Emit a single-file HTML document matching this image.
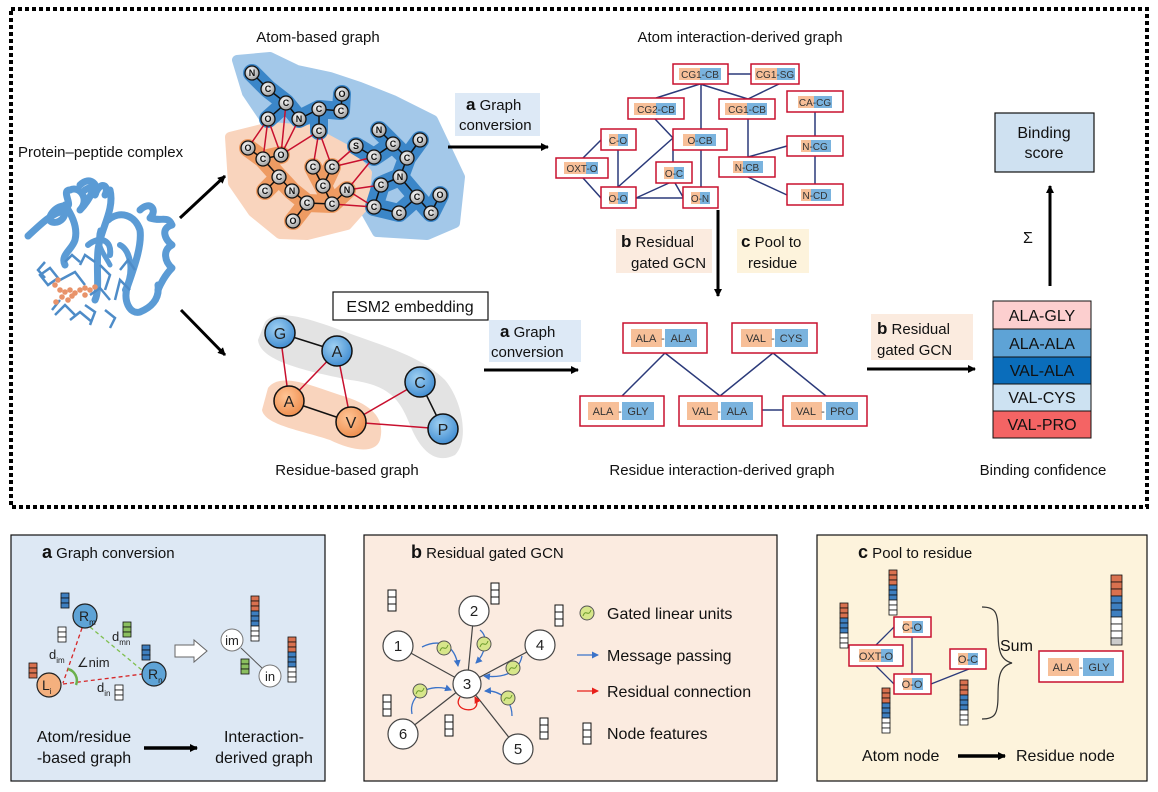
<!DOCTYPE html>
<html><head><meta charset="utf-8"><style>
html,body{margin:0;padding:0;background:#fff;}
svg{display:block;font-family:"Liberation Sans",sans-serif;}
</style></head><body>
<svg width="1158" height="792" viewBox="0 0 1158 792" xmlns="http://www.w3.org/2000/svg">
<defs>
<marker id="ah" markerWidth="8" markerHeight="8" refX="7" refY="4" orient="auto" markerUnits="userSpaceOnUse"><path d="M0,0 L8,4 L0,8 z" fill="#000"/></marker>
<marker id="ab" markerWidth="7" markerHeight="7" refX="6" refY="3.5" orient="auto" markerUnits="userSpaceOnUse"><path d="M0,0 L7,3.5 L0,7 z" fill="#3b73c9"/></marker>
<marker id="ar" markerWidth="7" markerHeight="7" refX="6" refY="3.5" orient="auto" markerUnits="userSpaceOnUse"><path d="M0,0 L7,3.5 L0,7 z" fill="#e8201a"/></marker>
<radialGradient id="atom" cx="0.4" cy="0.35" r="0.7"><stop offset="0" stop-color="#fff"/><stop offset="1" stop-color="#9a9a9a"/></radialGradient>
<radialGradient id="ball" cx="0.4" cy="0.35" r="0.7"><stop offset="0" stop-color="#9fd0f2"/><stop offset="1" stop-color="#3d8ad0"/></radialGradient>
<radialGradient id="oball" cx="0.4" cy="0.35" r="0.7"><stop offset="0" stop-color="#ffc596"/><stop offset="1" stop-color="#ee8c4c"/></radialGradient>
</defs>

<rect x="11" y="9" width="1136" height="498" fill="none" stroke="#000" stroke-width="4" stroke-dasharray="4 3"/>

<g font-size="15" fill="#111" text-anchor="middle">
<text x="318" y="42">Atom-based graph</text>
<text x="740" y="42">Atom interaction-derived graph</text>
<text x="347" y="475">Residue-based graph</text>
<text x="722" y="475">Residue interaction-derived graph</text>
<text x="1043" y="475">Binding confidence</text>
</g>
<text x="18" y="157" font-size="15" fill="#111">Protein–peptide complex</text>

<!-- protein -->
<g fill="none" stroke="#5b9bd5" stroke-width="7" stroke-linecap="round" stroke-linejoin="round">
<path d="M28,236 C40,225 50,215 60,212 C70,210 62,225 52,222 C45,220 55,205 65,206 C75,208 60,190 70,190"/>
<path d="M70,190 C80,185 90,200 80,210 C90,200 100,180 85,190"/>
<path d="M80,185 C90,175 100,185 95,195 C100,180 110,185 105,195"/>
<path d="M65,205 C72,215 78,228 75,240 C72,250 60,255 65,265"/>
<path d="M110,190 C115,210 100,230 98,250 C96,270 100,290 95,300"/>
<path d="M108,220 C120,210 135,215 140,230 C142,245 135,265 128,285 C122,300 130,315 140,312 C150,308 160,300 158,285"/>
<path d="M140,210 C150,200 158,210 150,218 C162,222 168,215 172,225 C160,228 165,240 172,245 C162,250 165,262 172,268 C165,275 160,285 158,290"/>
<path d="M100,230 C95,245 105,255 110,265" stroke-width="5"/>
<path d="M120,245 C130,250 135,270 125,290" stroke-width="6"/>
<path d="M88,245 C100,235 112,240 110,255" stroke-width="6"/>
</g>
<g fill="none" stroke="#4e8cc8" stroke-width="2.5">
<path d="M40,275 L50,268 L58,278 L48,285 Z M60,280 L75,272 L85,285 M90,295 L100,288 L110,300 M55,315 L65,305 L75,315 M70,320 L80,312 L92,322 M115,300 L120,280 L130,290 M100,265 L110,275 L105,290 M45,262 L38,270 L45,278 M65,262 L72,255 L80,262 M85,305 L95,312 L90,325 M105,310 L115,318 L110,328 M120,270 L128,260 L135,270 M60,300 L52,310 M80,265 L85,255 L95,262"/>
</g>
<g fill="#e8936a">
<circle cx="55" cy="285" r="2.8"/><circle cx="60" cy="290" r="2.8"/><circle cx="65" cy="292" r="2.8"/><circle cx="70" cy="290" r="2.8"/><circle cx="75" cy="293" r="2.8"/><circle cx="80" cy="290" r="2.8"/><circle cx="85" cy="288" r="2.8"/><circle cx="90" cy="290" r="2.8"/><circle cx="62" cy="297" r="2.8"/><circle cx="68" cy="300" r="2.8"/><circle cx="56" cy="302" r="2.8"/><circle cx="95" cy="287" r="2.8"/><circle cx="58" cy="280" r="2.8"/><circle cx="72" cy="296" r="2.8"/><circle cx="85" cy="295" r="2.8"/>
</g>

<line x1="180" y1="218" x2="225" y2="176" stroke="#000" stroke-width="3" marker-end="url(#ah)"/>
<line x1="181" y1="310" x2="225" y2="355" stroke="#000" stroke-width="3" marker-end="url(#ah)"/>

<!-- Atom-based graph blobs -->
<polygon points="237,60 270,57 297,70 330,77 360,87 393,100 433,120 460,177 455,223 427,235 377,232 363,207 360,160 330,137 303,127 270,127 247,93" fill="#a3c8e9" stroke="#a3c8e9" stroke-width="10" stroke-linejoin="round"/>
<polygon points="230,137 270,127 310,130 347,150 367,173 363,207 347,225 307,235 280,234 253,212 233,183" fill="#f9d4bd" stroke="#f9d4bd" stroke-width="10" stroke-linejoin="round"/>
<g fill="none" stroke-linecap="round" stroke-linejoin="round" stroke-width="18">
<path stroke="#3b86c8" d="M252,73 L268,89 L286,103 L268,119 M286,103 L299,119 L319,109 L341,111 L342,94 M319,109 L319,131"/>
<path stroke="#3b86c8" d="M356,146 L374,157 L393,144 L379,130 M393,144 L407,158 L420,140 M407,158 L400,177 L381,185 L374,207 L399,213 L417,197 L400,177 M417,197 L431,213 L440,195"/>
<path stroke="#ee9b62" d="M248,148 L263,159 L281,155 M263,159 L279,177 L292,191 L307,203 L293,221 M279,177 L265,191 M307,203 L332,204 L323,186 L313,167 M323,186 L332,167 M332,204 L347,190"/>
</g>
<g stroke="#111" stroke-width="1.5">
<path fill="none" d="M252,73 L268,89 L286,103 L268,119 M286,103 L299,119 L319,109 L341,111 L342,94 M319,109 L319,131"/>
<path fill="none" d="M356,146 L374,157 L393,144 L379,130 M393,144 L407,158 L420,140 M407,158 L400,177 L381,185 L374,207 L399,213 L417,197 L400,177 M417,197 L431,213 L440,195"/>
<path fill="none" d="M248,148 L263,159 L281,155 M263,159 L279,177 L292,191 L307,203 L293,221 M279,177 L265,191 M307,203 L332,204 L323,186 L313,167 M323,186 L332,167 M332,204 L347,190"/>
</g>
<g stroke="#c8102e" stroke-width="1.5" fill="none">
<path d="M268,119 L248,148 M268,119 L263,159 M268,119 L281,155 M286,103 L281,155 M299,119 L281,155 M319,131 L281,155 M319,131 L313,167 M319,131 L332,167 M332,167 L356,146 M332,167 L374,157 M347,190 L374,157 M347,190 L381,185 M347,190 L374,207 M332,204 L374,207"/>
</g>
<g stroke="#111" stroke-width="1.3" fill="url(#atom)">
<circle cx="252" cy="73" r="7"/><circle cx="268" cy="89" r="7"/><circle cx="286" cy="103" r="7"/><circle cx="268" cy="119" r="7"/><circle cx="299" cy="119" r="7"/><circle cx="319" cy="109" r="7"/><circle cx="319" cy="131" r="7"/><circle cx="342" cy="94" r="7"/><circle cx="341" cy="111" r="7"/>
<circle cx="248" cy="148" r="7"/><circle cx="263" cy="159" r="7"/><circle cx="281" cy="155" r="7"/><circle cx="279" cy="177" r="7"/><circle cx="265" cy="191" r="7"/><circle cx="292" cy="191" r="7"/><circle cx="307" cy="203" r="7"/><circle cx="293" cy="221" r="7"/><circle cx="313" cy="167" r="7"/><circle cx="332" cy="167" r="7"/><circle cx="323" cy="186" r="7"/><circle cx="332" cy="204" r="7"/><circle cx="347" cy="190" r="7"/>
<circle cx="356" cy="146" r="7"/><circle cx="374" cy="157" r="7"/><circle cx="379" cy="130" r="7"/><circle cx="393" cy="144" r="7"/><circle cx="420" cy="140" r="7"/><circle cx="407" cy="158" r="7"/><circle cx="400" cy="177" r="7"/><circle cx="381" cy="185" r="7"/><circle cx="374" cy="207" r="7"/><circle cx="399" cy="213" r="7"/><circle cx="417" cy="197" r="7"/><circle cx="431" cy="213" r="7"/><circle cx="440" cy="195" r="7"/>
</g>
<g font-size="9" font-weight="bold" fill="#111" text-anchor="middle">
<text x="252" y="76">N</text><text x="268" y="92">C</text><text x="286" y="106">C</text><text x="268" y="122">O</text><text x="299" y="122">N</text><text x="319" y="112">C</text><text x="319" y="134">C</text><text x="342" y="97">O</text><text x="341" y="114">C</text>
<text x="248" y="151">O</text><text x="263" y="162">C</text><text x="281" y="158">O</text><text x="279" y="180">C</text><text x="265" y="194">C</text><text x="292" y="194">N</text><text x="307" y="206">C</text><text x="293" y="224">O</text><text x="313" y="170">C</text><text x="332" y="170">C</text><text x="323" y="189">C</text><text x="332" y="207">C</text><text x="347" y="193">N</text>
<text x="356" y="149">S</text><text x="374" y="160">C</text><text x="379" y="133">N</text><text x="393" y="147">C</text><text x="420" y="143">O</text><text x="407" y="161">C</text><text x="400" y="180">N</text><text x="381" y="188">C</text><text x="374" y="210">C</text><text x="399" y="216">C</text><text x="417" y="200">C</text><text x="431" y="216">C</text><text x="440" y="198">O</text>
</g>

<rect x="455" y="93" width="85" height="43" fill="#dde9f6"/>
<text x="466" y="110" font-size="15" fill="#111"><tspan font-weight="bold" font-size="17">a</tspan> Graph</text>
<text x="459" y="130" font-size="15" fill="#111">conversion</text>
<line x1="448" y1="147" x2="548" y2="147" stroke="#000" stroke-width="3" marker-end="url(#ah)"/>

<g stroke="#2b3a7a" stroke-width="1.5" fill="none">
<path d="M728,74 L751,74 M700,84 L656,98 M700,84 L748,99 M779,84 L748,99 M701,84 L701,187 M655,119 L673,138 L673,162 M618,187 L673,138 M618,150 L618,187 M583,158 L601,140 M583,178 L601,198 M636,198 L683,198 M636,198 L669,183 M675,183 L683,197 M748,119 L748,157 M748,157 L787,146 M748,177 L787,195 M815,112 L815,136 M815,156 L815,184"/>
</g>
<g font-size="10" fill="#333" text-anchor="middle">
<rect x="673" y="64" width="55" height="20" fill="#fff" stroke="#c8102e" stroke-width="1.5"/><rect x="679" y="68" width="21" height="12" fill="#f7bf98"/><rect x="700" y="68" width="21" height="12" fill="#7ab3de"/><text x="700" y="78">CG1-CB</text>
<rect x="751" y="64" width="48" height="20" fill="#fff" stroke="#c8102e" stroke-width="1.5"/><rect x="755" y="68" width="22" height="12" fill="#f7bf98"/><rect x="777" y="68" width="18" height="12" fill="#7ab3de"/><text x="775" y="78">CG1-SG</text>
<rect x="628" y="98" width="56" height="21" fill="#fff" stroke="#c8102e" stroke-width="1.5"/><rect x="634" y="103" width="22" height="12" fill="#f7bf98"/><rect x="656" y="103" width="20" height="12" fill="#7ab3de"/><text x="656" y="113">CG2-CB</text>
<rect x="719" y="99" width="56" height="20" fill="#fff" stroke="#c8102e" stroke-width="1.5"/><rect x="725" y="103" width="22" height="12" fill="#f7bf98"/><rect x="747" y="103" width="20" height="12" fill="#7ab3de"/><text x="747" y="113">CG1-CB</text>
<rect x="787" y="91" width="56" height="21" fill="#fff" stroke="#c8102e" stroke-width="1.5"/><rect x="798" y="96" width="16" height="12" fill="#f7bf98"/><rect x="814" y="96" width="18" height="12" fill="#7ab3de"/><text x="815" y="106">CA-CG</text>
<rect x="601" y="129" width="35" height="21" fill="#fff" stroke="#c8102e" stroke-width="1.5"/><rect x="609" y="134" width="9" height="12" fill="#f7bf98"/><rect x="618" y="134" width="10" height="12" fill="#7ab3de"/><text x="618" y="144">C-O</text>
<rect x="673" y="129" width="54" height="21" fill="#fff" stroke="#c8102e" stroke-width="1.5"/><rect x="683" y="134" width="12" height="12" fill="#f7bf98"/><rect x="695" y="134" width="21" height="12" fill="#7ab3de"/><text x="700" y="144">O-CB</text>
<rect x="556" y="158" width="52" height="20" fill="#fff" stroke="#c8102e" stroke-width="1.5"/><rect x="564" y="162" width="22" height="12" fill="#f7bf98"/><rect x="586" y="162" width="12" height="12" fill="#7ab3de"/><text x="582" y="172">OXT-O</text>
<rect x="656" y="162" width="36" height="21" fill="#fff" stroke="#c8102e" stroke-width="1.5"/><rect x="664" y="167" width="10" height="12" fill="#f7bf98"/><rect x="674" y="167" width="10" height="12" fill="#7ab3de"/><text x="674" y="177">O-C</text>
<rect x="719" y="157" width="56" height="20" fill="#fff" stroke="#c8102e" stroke-width="1.5"/><rect x="733" y="161" width="10" height="12" fill="#f7bf98"/><rect x="743" y="161" width="20" height="12" fill="#7ab3de"/><text x="747" y="171">N-CB</text>
<rect x="787" y="136" width="56" height="20" fill="#fff" stroke="#c8102e" stroke-width="1.5"/><rect x="801" y="140" width="10" height="12" fill="#f7bf98"/><rect x="811" y="140" width="20" height="12" fill="#7ab3de"/><text x="815" y="150">N-CG</text>
<rect x="601" y="187" width="35" height="21" fill="#fff" stroke="#c8102e" stroke-width="1.5"/><rect x="609" y="192" width="9" height="12" fill="#f7bf98"/><rect x="618" y="192" width="10" height="12" fill="#7ab3de"/><text x="618" y="202">O-O</text>
<rect x="683" y="187" width="35" height="21" fill="#fff" stroke="#c8102e" stroke-width="1.5"/><rect x="691" y="192" width="9" height="12" fill="#f7bf98"/><rect x="700" y="192" width="10" height="12" fill="#7ab3de"/><text x="700" y="202">O-N</text>
<rect x="787" y="184" width="56" height="21" fill="#fff" stroke="#c8102e" stroke-width="1.5"/><rect x="801" y="189" width="10" height="12" fill="#f7bf98"/><rect x="811" y="189" width="20" height="12" fill="#7ab3de"/><text x="815" y="199">N-CD</text>
</g>

<rect x="616" y="229" width="96" height="44" fill="#fbebdf"/>
<text x="621" y="247" font-size="15" fill="#111"><tspan font-weight="bold" font-size="17">b</tspan> Residual</text>
<text x="631" y="268" font-size="15" fill="#111">gated GCN</text>
<rect x="737" y="229" width="72" height="44" fill="#fdf3dc"/>
<text x="741" y="247" font-size="15" fill="#111"><tspan font-weight="bold" font-size="17">c</tspan> Pool to</text>
<text x="748" y="268" font-size="15" fill="#111">residue</text>
<line x1="718" y1="210" x2="718" y2="296" stroke="#000" stroke-width="3" marker-end="url(#ah)"/>

<path d="M265,322 C275,310 300,315 340,330 C380,345 420,355 445,380 C462,400 470,440 455,455 C435,465 420,450 410,425 C400,400 390,385 350,380 C300,370 260,360 258,340 Z" fill="#e3e3e3"/>
<path d="M268,388 C280,372 310,385 340,395 C375,405 385,420 380,440 C375,455 350,450 330,440 C300,430 265,425 262,410 Z" fill="#f9d4bd"/>
<g stroke-width="1.5" fill="none">
<path stroke="#111" d="M280,333 L337,351 M289,401 L351,422 M420,382 L443,429"/>
<path stroke="#c8102e" d="M280,333 L289,401 M337,351 L289,401 M337,351 L351,422 M351,422 L420,382 M351,422 L443,429"/>
</g>
<g stroke="#111" stroke-width="1.5">
<circle cx="280" cy="333" r="15" fill="url(#ball)"/><circle cx="337" cy="351" r="15" fill="url(#ball)"/><circle cx="420" cy="382" r="15" fill="url(#ball)"/><circle cx="443" cy="429" r="15" fill="url(#ball)"/>
<circle cx="289" cy="401" r="15" fill="url(#oball)"/><circle cx="351" cy="422" r="15" fill="url(#oball)"/>
</g>
<g font-size="16" fill="#222" text-anchor="middle">
<text x="280" y="339">G</text><text x="337" y="357">A</text><text x="420" y="388">C</text><text x="443" y="435">P</text><text x="289" y="407">A</text><text x="351" y="428">V</text>
</g>
<rect x="333" y="292" width="155" height="28" fill="#fff" stroke="#111" stroke-width="1.2"/>
<text x="410" y="312" font-size="16" fill="#111" text-anchor="middle">ESM2 embedding</text>

<rect x="489" y="320" width="92" height="42" fill="#dde9f6"/>
<text x="500" y="337" font-size="15" fill="#111"><tspan font-weight="bold" font-size="17">a</tspan> Graph</text>
<text x="491" y="357" font-size="15" fill="#111">conversion</text>
<line x1="484" y1="370" x2="578" y2="370" stroke="#000" stroke-width="3" marker-end="url(#ah)"/>

<g stroke="#2b3a7a" stroke-width="1.5" fill="none">
<path d="M665,353 L622,396 M665,353 L720,396 M773,353 L720,396 M773,353 L826,396 M762,410 L783,410"/>
</g>
<g font-size="11" fill="#333" text-anchor="middle">
<rect x="623" y="323" width="84" height="30" fill="#fff" stroke="#c8102e" stroke-width="1.5"/><rect x="631" y="329" width="31" height="18" fill="#f7bf98"/><rect x="665" y="329" width="32" height="18" fill="#7ab3de"/><text x="646" y="342">ALA</text><text x="663" y="342">-</text><text x="681" y="342">ALA</text>
<rect x="732" y="323" width="85" height="30" fill="#fff" stroke="#c8102e" stroke-width="1.5"/><rect x="741" y="329" width="31" height="18" fill="#f7bf98"/><rect x="775" y="329" width="33" height="18" fill="#7ab3de"/><text x="756" y="342">VAL</text><text x="773" y="342">-</text><text x="791" y="342">CYS</text>
<rect x="580" y="396" width="84" height="30" fill="#fff" stroke="#c8102e" stroke-width="1.5"/><rect x="588" y="402" width="31" height="18" fill="#f7bf98"/><rect x="622" y="402" width="32" height="18" fill="#7ab3de"/><text x="603" y="415">ALA</text><text x="620" y="415">-</text><text x="638" y="415">GLY</text>
<rect x="679" y="396" width="83" height="30" fill="#fff" stroke="#c8102e" stroke-width="1.5"/><rect x="687" y="402" width="31" height="18" fill="#f7bf98"/><rect x="721" y="402" width="32" height="18" fill="#7ab3de"/><text x="702" y="415">VAL</text><text x="719" y="415">-</text><text x="737" y="415">ALA</text>
<rect x="783" y="396" width="84" height="30" fill="#fff" stroke="#c8102e" stroke-width="1.5"/><rect x="791" y="402" width="31" height="18" fill="#f7bf98"/><rect x="826" y="402" width="32" height="18" fill="#7ab3de"/><text x="806" y="415">VAL</text><text x="823" y="415">-</text><text x="842" y="415">PRO</text>
</g>

<rect x="871" y="314" width="102" height="46" fill="#fbebdf"/>
<text x="877" y="334" font-size="15" fill="#111"><tspan font-weight="bold" font-size="17">b</tspan> Residual</text>
<text x="877" y="355" font-size="15" fill="#111">gated GCN</text>
<line x1="867" y1="369" x2="975" y2="369" stroke="#000" stroke-width="3" marker-end="url(#ah)"/>

<rect x="995" y="113" width="99" height="59" fill="#cfe1f1" stroke="#111" stroke-width="1.2"/>
<text x="1044" y="138" font-size="16" fill="#111" text-anchor="middle">Binding</text>
<text x="1044" y="158" font-size="16" fill="#111" text-anchor="middle">score</text>
<line x1="1050" y1="286" x2="1050" y2="186" stroke="#000" stroke-width="3" marker-end="url(#ah)"/>
<text x="1028" y="243" font-size="16" fill="#111" text-anchor="middle">Σ</text>
<g stroke="#111" stroke-width="1">
<rect x="993" y="301" width="98" height="28" fill="#fccfcf"/>
<rect x="993" y="329" width="98" height="28" fill="#5ea3d6"/>
<rect x="993" y="357" width="98" height="27" fill="#0a6dbb"/>
<rect x="993" y="384" width="98" height="27" fill="#cde2f2"/>
<rect x="993" y="411" width="98" height="27" fill="#f46464"/>
</g>
<g font-size="16" fill="#111" text-anchor="middle">
<text x="1042" y="321">ALA-GLY</text><text x="1042" y="349">ALA-ALA</text><text x="1042" y="376">VAL-ALA</text><text x="1042" y="403">VAL-CYS</text><text x="1042" y="430">VAL-PRO</text>
</g>

<!-- Panel a -->
<rect x="11" y="535" width="314" height="246" fill="#dde8f4" stroke="#111" stroke-width="1.2"/>
<text x="42" y="558" font-size="15" fill="#111"><tspan font-weight="bold" font-size="18">a</tspan> Graph conversion</text>
<g stroke-width="1.3" fill="none" stroke-dasharray="4 3">
<line x1="82" y1="628" x2="63" y2="683" stroke="#d62728"/>
<line x1="63" y1="684" x2="143" y2="674" stroke="#d62728"/>
<line x1="90" y1="627" x2="143" y2="671" stroke="#7fbf4f"/>
</g>
<path d="M68,669 A12,12 0 0 1 76,685" fill="none" stroke="#6ab04c" stroke-width="2.5"/>
<circle cx="85" cy="616" r="12" fill="#5ea3d6" stroke="#222" stroke-width="1.2"/>
<circle cx="49" cy="685" r="12" fill="#f4b07e" stroke="#222" stroke-width="1.2"/>
<circle cx="154" cy="674" r="12" fill="#5ea3d6" stroke="#222" stroke-width="1.2"/>
<text x="79" y="621" font-size="14" fill="#222">R<tspan font-size="8" dy="4">m</tspan></text>
<text x="42" y="690" font-size="14" fill="#222">L<tspan font-size="8" dy="4">i</tspan></text>
<text x="148" y="679" font-size="14" fill="#222">R<tspan font-size="8" dy="4">n</tspan></text>
<text x="49" y="659" font-size="13" fill="#222">d<tspan font-size="8" dy="4">im</tspan></text>
<text x="77" y="667" font-size="13" fill="#222">∠nim</text>
<text x="112" y="641" font-size="13" fill="#222">d<tspan font-size="8" dy="4">mn</tspan></text>
<text x="97" y="692" font-size="13" fill="#222">d<tspan font-size="8" dy="4">in</tspan></text>
<g stroke="#111" stroke-width="0.8">
<rect x="61" y="593" width="8" height="5" fill="#3e7fc0"/><rect x="61" y="598" width="8" height="5" fill="#3e7fc0"/><rect x="61" y="603" width="8" height="5" fill="#3e7fc0"/>
<rect x="58" y="627" width="8" height="5" fill="#fff"/><rect x="58" y="632" width="8" height="5" fill="#fff"/><rect x="58" y="637" width="8" height="5" fill="#fff"/>
<rect x="29" y="663" width="8" height="5" fill="#d9714f"/><rect x="29" y="668" width="8" height="5" fill="#d9714f"/><rect x="29" y="673" width="8" height="5" fill="#d9714f"/>
<rect x="123" y="622" width="8" height="5" fill="#8bbf5f"/><rect x="123" y="627" width="8" height="5" fill="#8bbf5f"/><rect x="123" y="632" width="8" height="5" fill="#8bbf5f"/>
<rect x="142" y="645" width="8" height="5" fill="#3e7fc0"/><rect x="142" y="650" width="8" height="5" fill="#3e7fc0"/><rect x="142" y="655" width="8" height="5" fill="#3e7fc0"/>
<rect x="115" y="685" width="8" height="5" fill="#fff"/><rect x="115" y="690" width="8" height="5" fill="#fff"/><rect x="115" y="695" width="8" height="5" fill="#fff"/>
<rect x="241" y="659" width="8" height="5" fill="#8bbf5f"/><rect x="241" y="664" width="8" height="5" fill="#8bbf5f"/><rect x="241" y="669" width="8" height="5" fill="#8bbf5f"/>
</g>
<g stroke="#111" stroke-width="0.8">
<rect x="251" y="596" width="8" height="5" fill="#d9714f"/><rect x="251" y="601" width="8" height="5" fill="#d9714f"/><rect x="251" y="606" width="8" height="5" fill="#d9714f"/><rect x="251" y="611" width="8" height="5" fill="#3e7fc0"/><rect x="251" y="616" width="8" height="5" fill="#3e7fc0"/><rect x="251" y="621" width="8" height="5" fill="#3e7fc0"/><rect x="251" y="626" width="8" height="5" fill="#fff"/><rect x="251" y="631" width="8" height="5" fill="#fff"/><rect x="251" y="636" width="8" height="5" fill="#fff"/>
<rect x="288" y="637" width="8" height="5" fill="#d9714f"/><rect x="288" y="642" width="8" height="5" fill="#d9714f"/><rect x="288" y="647" width="8" height="5" fill="#d9714f"/><rect x="288" y="652" width="8" height="5" fill="#3e7fc0"/><rect x="288" y="657" width="8" height="5" fill="#3e7fc0"/><rect x="288" y="662" width="8" height="5" fill="#3e7fc0"/><rect x="288" y="667" width="8" height="5" fill="#fff"/><rect x="288" y="672" width="8" height="5" fill="#fff"/><rect x="288" y="677" width="8" height="5" fill="#fff"/>
</g>
<path d="M175,645 L194,645 L194,640 L207,651 L194,662 L194,657 L175,657 Z" fill="#fff" stroke="#666" stroke-width="1"/>
<line x1="241" y1="648" x2="262" y2="668" stroke="#555" stroke-width="1"/>
<circle cx="232" cy="640" r="11" fill="#fff" stroke="#777" stroke-width="1"/>
<circle cx="270" cy="676" r="11" fill="#fff" stroke="#777" stroke-width="1"/>
<text x="232" y="645" font-size="13" fill="#222" text-anchor="middle">im</text>
<text x="270" y="681" font-size="13" fill="#222" text-anchor="middle">in</text>
<g font-size="16" fill="#111" text-anchor="middle">
<text x="84" y="742">Atom/residue</text><text x="84" y="763">-based graph</text>
<text x="264" y="742">Interaction-</text><text x="264" y="763">derived graph</text>
</g>
<line x1="144" y1="748" x2="197" y2="748" stroke="#000" stroke-width="3.5" marker-end="url(#ah)"/>

<!-- Panel b -->
<rect x="364" y="535" width="413" height="246" fill="#fbebe0" stroke="#111" stroke-width="1.2"/>
<text x="411" y="558" font-size="15" fill="#111"><tspan font-weight="bold" font-size="18">b</tspan> Residual gated GCN</text>
<g stroke="#444" stroke-width="1.2">
<line x1="398" y1="646" x2="467" y2="684"/><line x1="474" y1="611" x2="467" y2="684"/><line x1="540" y1="645" x2="467" y2="684"/><line x1="403" y1="734" x2="467" y2="684"/><line x1="518" y1="749" x2="467" y2="684"/>
</g>
<g fill="#fff" stroke="#444" stroke-width="1.2">
<circle cx="398" cy="646" r="15"/><circle cx="474" cy="611" r="15"/><circle cx="540" cy="645" r="15"/><circle cx="403" cy="734" r="15"/><circle cx="518" cy="749" r="15"/><circle cx="467" cy="684" r="14"/>
</g>
<g font-size="15" fill="#222" text-anchor="middle">
<text x="398" y="651">1</text><text x="474" y="616">2</text><text x="540" y="650">4</text><text x="403" y="739">6</text><text x="518" y="754">5</text><text x="467" y="689">3</text>
</g>
<g fill="none" stroke="#3b73c9" stroke-width="1.3">
<path d="M422,647 C440,638 455,645 458,666" marker-end="url(#ab)"/>
<path d="M480,630 C490,638 484,655 476,663" marker-end="url(#ab)"/>
<path d="M522,656 C518,675 500,678 484,676" marker-end="url(#ab)"/>
<path d="M512,716 C512,700 500,690 485,691" marker-end="url(#ab)"/>
<path d="M412,714 C408,695 430,682 451,690" marker-end="url(#ab)"/>
<path d="M577,655 L598,655" marker-end="url(#ab)"/>
</g>
<path d="M460,697 C450,712 485,716 475,697" fill="none" stroke="#e8201a" stroke-width="1.3" marker-end="url(#ar)"/>
<path d="M577,691 L598,691" fill="none" stroke="#e8201a" stroke-width="1.3" marker-end="url(#ar)"/>
<g fill="#d7e68a" stroke="#555" stroke-width="1">
<circle cx="444" cy="648" r="7"/><circle cx="484" cy="644" r="7"/><circle cx="513" cy="668" r="7"/><circle cx="508" cy="698" r="7"/><circle cx="420" cy="691" r="7"/><circle cx="587" cy="613" r="7"/>
</g>
<g fill="none" stroke="#6a9a2a" stroke-width="1">
<path d="M440,651 C443,643 445,653 448,645"/><path d="M480,647 C483,639 485,649 488,641"/><path d="M509,671 C512,663 514,673 517,665"/><path d="M504,701 C507,693 509,703 512,695"/><path d="M416,694 C419,686 421,696 424,688"/><path d="M583,616 C586,608 588,618 591,610"/>
</g>
<g fill="#fff" stroke="#111" stroke-width="1">
<rect x="388" y="590" width="8" height="7"/><rect x="388" y="597" width="8" height="7"/><rect x="388" y="604" width="8" height="7"/>
<rect x="491" y="583" width="8" height="7"/><rect x="491" y="590" width="8" height="7"/><rect x="491" y="597" width="8" height="7"/>
<rect x="555" y="605" width="8" height="7"/><rect x="555" y="612" width="8" height="7"/><rect x="555" y="619" width="8" height="7"/>
<rect x="383" y="695" width="8" height="7"/><rect x="383" y="702" width="8" height="7"/><rect x="383" y="709" width="8" height="7"/>
<rect x="445" y="715" width="8" height="7"/><rect x="445" y="722" width="8" height="7"/><rect x="445" y="729" width="8" height="7"/>
<rect x="540" y="718" width="8" height="7"/><rect x="540" y="725" width="8" height="7"/><rect x="540" y="732" width="8" height="7"/>
<rect x="583" y="723" width="8" height="7"/><rect x="583" y="730" width="8" height="7"/><rect x="583" y="737" width="8" height="7"/>
</g>
<g font-size="16" fill="#111">
<text x="607" y="619">Gated linear units</text>
<text x="607" y="661">Message passing</text>
<text x="607" y="697">Residual connection</text>
<text x="607" y="739">Node features</text>
</g>

<!-- Panel c -->
<rect x="817" y="535" width="330" height="246" fill="#fdf3dc" stroke="#111" stroke-width="1.2"/>
<text x="858" y="558" font-size="15" fill="#111"><tspan font-weight="bold" font-size="18">c</tspan> Pool to residue</text>
<g stroke="#2b3a7a" stroke-width="1.3" fill="none">
<path d="M876,645 L894,627 M876,666 L894,684 M912,637 L912,674 M931,684 L969,669"/>
</g>
<g font-size="11" fill="#333" text-anchor="middle">
<rect x="894" y="617" width="37" height="20" fill="#fff" stroke="#c8102e" stroke-width="1.5"/><rect x="903" y="621" width="9" height="12" fill="#f7bf98"/><rect x="912" y="621" width="11" height="12" fill="#7ab3de"/><text x="912" y="631">C-O</text>
<rect x="849" y="645" width="54" height="21" fill="#fff" stroke="#c8102e" stroke-width="1.5"/><rect x="859" y="649" width="22" height="13" fill="#f7bf98"/><rect x="881" y="649" width="12" height="13" fill="#7ab3de"/><text x="876" y="660">OXT-O</text>
<rect x="950" y="649" width="36" height="20" fill="#fff" stroke="#c8102e" stroke-width="1.5"/><rect x="958" y="653" width="10" height="12" fill="#f7bf98"/><rect x="968" y="653" width="10" height="12" fill="#7ab3de"/><text x="968" y="663">O-C</text>
<rect x="894" y="674" width="37" height="20" fill="#fff" stroke="#c8102e" stroke-width="1.5"/><rect x="903" y="678" width="9" height="12" fill="#f7bf98"/><rect x="912" y="678" width="11" height="12" fill="#7ab3de"/><text x="912" y="688">O-O</text>
<rect x="1039" y="651" width="84" height="31" fill="#fff" stroke="#c8102e" stroke-width="1.5"/><rect x="1048" y="658" width="31" height="18" fill="#f7bf98"/><rect x="1083" y="658" width="31" height="18" fill="#7ab3de"/><text x="1063" y="671">ALA</text><text x="1081" y="671">-</text><text x="1099" y="671">GLY</text>
</g>
<g stroke="#111" stroke-width="0.8">
<rect x="889" y="570" width="8" height="5" fill="#d9714f"/><rect x="889" y="575" width="8" height="5" fill="#d9714f"/><rect x="889" y="580" width="8" height="5" fill="#d9714f"/><rect x="889" y="585" width="8" height="5" fill="#3e7fc0"/><rect x="889" y="590" width="8" height="5" fill="#3e7fc0"/><rect x="889" y="595" width="8" height="5" fill="#3e7fc0"/><rect x="889" y="600" width="8" height="5" fill="#fff"/><rect x="889" y="605" width="8" height="5" fill="#fff"/><rect x="889" y="610" width="8" height="5" fill="#fff"/>
<rect x="840" y="603" width="8" height="5" fill="#d9714f"/><rect x="840" y="608" width="8" height="5" fill="#d9714f"/><rect x="840" y="613" width="8" height="5" fill="#d9714f"/><rect x="840" y="618" width="8" height="5" fill="#3e7fc0"/><rect x="840" y="623" width="8" height="5" fill="#3e7fc0"/><rect x="840" y="628" width="8" height="5" fill="#3e7fc0"/><rect x="840" y="633" width="8" height="5" fill="#fff"/><rect x="840" y="638" width="8" height="5" fill="#fff"/><rect x="840" y="643" width="8" height="5" fill="#fff"/>
<rect x="882" y="688" width="8" height="5" fill="#d9714f"/><rect x="882" y="693" width="8" height="5" fill="#d9714f"/><rect x="882" y="698" width="8" height="5" fill="#d9714f"/><rect x="882" y="703" width="8" height="5" fill="#3e7fc0"/><rect x="882" y="708" width="8" height="5" fill="#3e7fc0"/><rect x="882" y="713" width="8" height="5" fill="#3e7fc0"/><rect x="882" y="718" width="8" height="5" fill="#fff"/><rect x="882" y="723" width="8" height="5" fill="#fff"/><rect x="882" y="728" width="8" height="5" fill="#fff"/>
<rect x="960" y="680" width="8" height="5" fill="#d9714f"/><rect x="960" y="685" width="8" height="5" fill="#d9714f"/><rect x="960" y="690" width="8" height="5" fill="#d9714f"/><rect x="960" y="695" width="8" height="5" fill="#3e7fc0"/><rect x="960" y="700" width="8" height="5" fill="#3e7fc0"/><rect x="960" y="705" width="8" height="5" fill="#3e7fc0"/><rect x="960" y="710" width="8" height="5" fill="#fff"/><rect x="960" y="715" width="8" height="5" fill="#fff"/><rect x="960" y="720" width="8" height="5" fill="#fff"/>
<rect x="1111" y="575" width="11" height="7" fill="#d9714f"/><rect x="1111" y="582" width="11" height="7" fill="#d9714f"/><rect x="1111" y="589" width="11" height="7" fill="#d9714f"/><rect x="1111" y="596" width="11" height="7" fill="#3e7fc0"/><rect x="1111" y="603" width="11" height="7" fill="#3e7fc0"/><rect x="1111" y="610" width="11" height="7" fill="#3e7fc0"/><rect x="1111" y="617" width="11" height="7" fill="#fff"/><rect x="1111" y="624" width="11" height="7" fill="#fff"/><rect x="1111" y="631" width="11" height="7" fill="#fff"/><rect x="1111" y="638" width="11" height="7" fill="#ccc"/>
</g>
<path d="M982,607 C995,607 998,612 998,630 C998,650 1000,660 1012,663 C1000,666 998,676 998,696 C998,714 995,719 982,719" fill="none" stroke="#333" stroke-width="1.2"/>
<text x="1000" y="651" font-size="16" fill="#111">Sum</text>
<g font-size="16" fill="#111">
<text x="862" y="761">Atom node</text>
<text x="1016" y="761">Residue node</text>
</g>
<line x1="958" y1="756" x2="1005" y2="756" stroke="#000" stroke-width="3.5" marker-end="url(#ah)"/>
</svg>
</body></html>
